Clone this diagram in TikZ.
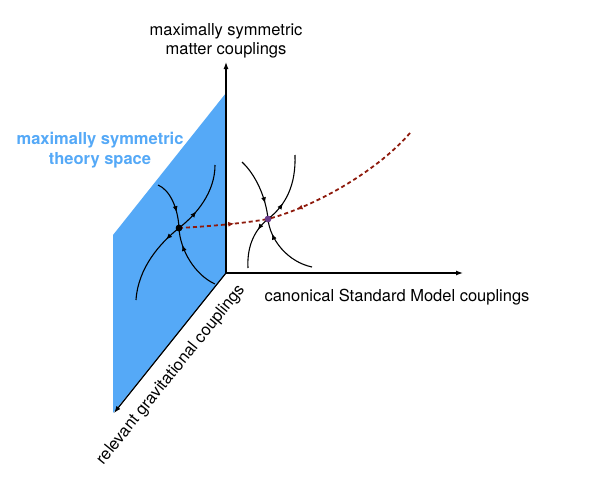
\documentclass[tikz,border=0pt]{standalone}
\usepackage{fontspec}
\setmainfont{TeX Gyre Heros}
\usetikzlibrary{arrows.meta,positioning,decorations.markings}
\definecolor{PlaneBlue}{HTML}{55A9F7}
\definecolor{FlowRed}{HTML}{8E1A0C}
\definecolor{FixPurple}{HTML}{6B3C8C}

\begin{document}
\begin{tikzpicture}[x=1pt,y=-1pt,font=\fontsize{16.5}{19}\selectfont,
axis/.style={line width=1.2pt,-{Latex[length=7pt,width=5pt]}},
flow/.style={line width=1.1pt},
rg/.style={line width=1.8pt,FlowRed,dash pattern=on 4pt off 3pt},
fp/.style={circle,inner sep=0pt,minimum size=6.5pt},
lab/.style={align=center},
tip/.style={postaction={decorate},decoration={markings,
  mark=at position #1 with {\arrow[solid]{Latex[length=6pt,width=5pt]}}}}]
\useasboundingbox (0,0) rectangle (598,482);
% axes
\coordinate (O) at (226,273);
\coordinate (ztip) at (226,62);
\coordinate (xtip) at (463,273);
\coordinate (ytip) at (114,413);
\coordinate (ptop) at (226,93);
\coordinate (pleft) at (113,235);
% theory space plane
\fill[PlaneBlue] (ptop) -- (O) -- (113,413) -- (pleft) -- cycle;
\draw[axis] (O) -- (ztip);
\draw[axis] (O) -- (xtip);
\draw[axis] (O) -- (ytip);
\node[lab,above=0pt of ztip] (zlab) {maximally symmetric\\matter couplings};
\node[lab] (xlab) at (397,297) {canonical Standard Model couplings};
\node[lab,rotate=51] (ylab) at (171,375) {relevant gravitational couplings};
\node[lab,text=PlaneBlue,font=\fontsize{16.5}{20}\selectfont\bfseries] (plab) at (100,150) {maximally symmetric\\theory space};
% fixed points
\node[fp,fill=black] (gfp) at (179,228) {};
\node[fp,fill=FixPurple] (smfp) at (268,219) {};
% flow near the gravitational fixed point
\draw[flow,tip=0.68] (158,185) .. controls (170,190) and (178,208) .. (gfp.center);
\draw[flow,tip=0.75] (215,284) .. controls (195,275) and (180,250) .. (gfp.center);
\draw[flow,tip=0.32] (gfp.center) .. controls (197,214) and (215,192) .. (215,165);
\draw[flow,tip=0.2] (gfp.center) .. controls (160,243) and (138,268) .. (136,300);
% flow near the matter fixed point
\draw[flow,tip=0.75] (242,162) .. controls (256,175) and (266,198) .. (smfp.center);
\draw[flow,tip=0.78] (312,267) .. controls (288,262) and (270,240) .. (smfp.center);
\draw[flow,tip=0.3] (smfp.center) .. controls (286,205) and (296,185) .. (295,155);
\draw[flow,tip=0.27] (smfp.center) .. controls (252,232) and (247,250) .. (248,268);
% RG trajectory
\draw[rg,tip=0.62] (gfp.center) .. controls (215,226) and (245,223) .. (smfp.center);
\draw[rg,tip=0.82] (410,133) .. controls (380,168) and (320,205) .. (smfp.center);
\node[fp,fill=black] at (gfp) {};
\node[fp,fill=FixPurple] at (smfp) {};
\end{tikzpicture}
\end{document}
